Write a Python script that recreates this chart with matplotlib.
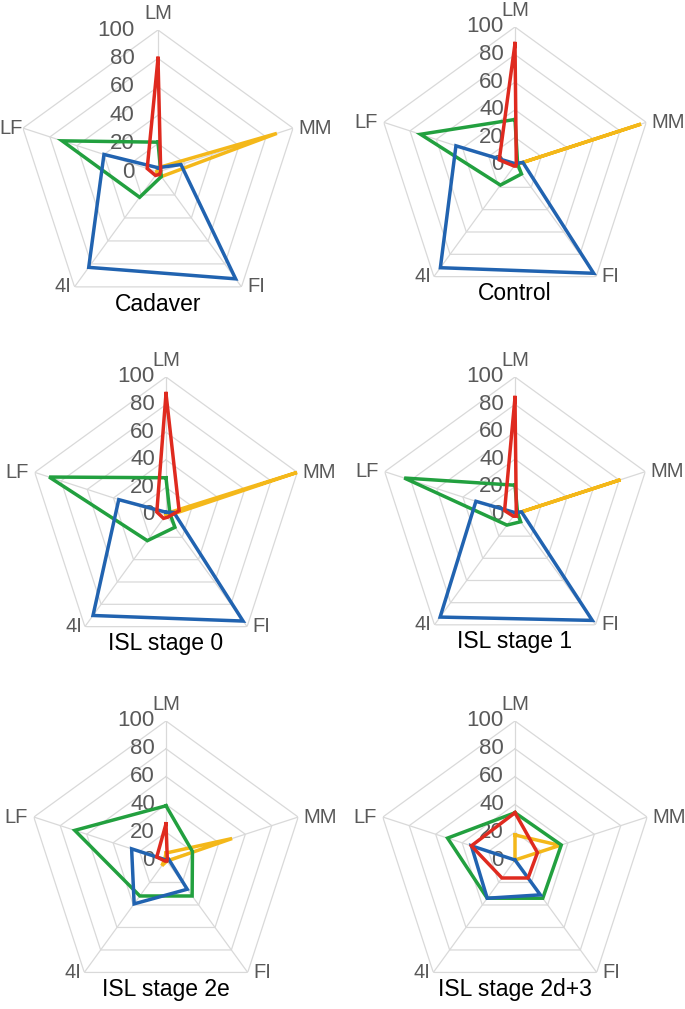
import numpy as np
import matplotlib
matplotlib.use("Agg")
import matplotlib.pyplot as plt

plt.rcParams['font.family'] = ['Liberation Sans', 'DejaVu Sans']

# --- datos ---
categories = ['LM', 'MM', 'FI', '4I', 'LF']
titles = ['Cadaver', 'Control', 'ISL stage 0', 'ISL stage 1', 'ISL stage 2e', 'ISL stage 2d+3']
ticks = [0, 20, 40, 60, 80, 100]

# un valor por eje (LM, MM, FI, 4I, LF) para cada panel
red_vals = [[80, 2, 2, 3, 8], [88, 1, 1, 1, 12], [88, 10, 2, 3, 7],
            [85, 1, 2, 2, 8], [26, 1, 1, 1, 7], [34, 17, 16, 16, 33]]
yellow_vals = [[3, 88, 4, 1, 1], [0, 96, 0, 0, 0], [1, 100, 1, 0, 0],
               [0, 81, 0, 0, 0], [5, 50, 1, 5, 1], [18, 34, 0, 0, 0]]
green_vals = [[21, 2, 4, 22, 71], [33, 2, 8, 18, 72], [27, 3, 11, 23, 89],
              [21, 2, 7, 10, 85], [39, 20, 32, 32, 69], [34, 35, 34, 34, 51]]
blue_vals = [[3, 17, 93, 83, 40], [1, 6, 97, 92, 45], [2, 6, 95, 90, 36],
             [1, 5, 96, 93, 30], [0, 2, 26, 39, 26], [0, 0, 31, 34, 33]]

series = [(yellow_vals, '#f4b81a'), (green_vals, '#22a03f'),
          (blue_vals, '#2163b0'), (red_vals, '#df2a1f')]

# --- layout (px) ---
W, H = 685, 1009
centers = [(158, 172), (515, 165), (166, 515), (515, 514), (166, 860), (515, 860)]
radii = [142, 138, 138, 137, 139, 139]
tick_gap = [17, 8, 8, 8, 8, 8]

grid_c = '#d9d9d9'
label_c = '#595959'

fig = plt.figure(figsize=(W / 100, H / 100), dpi=100)
angles = np.linspace(0, 2 * np.pi, len(categories), endpoint=False)
closed = np.append(angles, angles[0])

lab_off = [((0, 12), 'center'), ((4, 0), 'left'), ((4, 0), 'left'),
           ((-2, 0), 'right'), ((-4, 0), 'right')]

for i, t in enumerate(titles):
    cx, cy = centers[i]
    R = radii[i]
    ax = fig.add_axes([(cx - R) / W, 1 - (cy + R) / H, 2 * R / W, 2 * R / H],
                      projection='polar')
    ax.set_theta_offset(np.pi / 2)
    ax.set_theta_direction(-1)
    ax.set_ylim(0, 100)
    ax.set_axis_off()

    # rejilla pentagonal
    for v in ticks[1:]:
        ax.plot(closed, [v] * len(closed), color=grid_c, lw=0.9, zorder=1)
    for a in angles:
        ax.plot([a, a], [0, 100], color=grid_c, lw=0.9, zorder=1)

    # series
    for vals, col in series:
        v = vals[i] + [vals[i][0]]
        ax.plot(closed, v, color=col, lw=2.5, solid_joinstyle='miter', zorder=3)

    # etiquetas de escala
    for v in ticks:
        ax.annotate(str(v), (0, v), xytext=(-tick_gap[i], 0), textcoords='offset points',
                    ha='right', va='center', fontsize=16, color=label_c, zorder=2)

    # etiquetas de ejes
    for a, name, (off, ha) in zip(angles, categories, lab_off):
        if i == 0 and name == 'LF':
            off = (-0.5, 0)
        ax.annotate(name, (a, 100), xytext=off, textcoords='offset points',
                    ha=ha, va='center', fontsize=14.5, color=label_c)

    ax.text(0.5, 0.035, t, transform=ax.transAxes, ha='center', va='center',
            fontsize=16.5, color='black')

fig.savefig('out.png', dpi=100)
